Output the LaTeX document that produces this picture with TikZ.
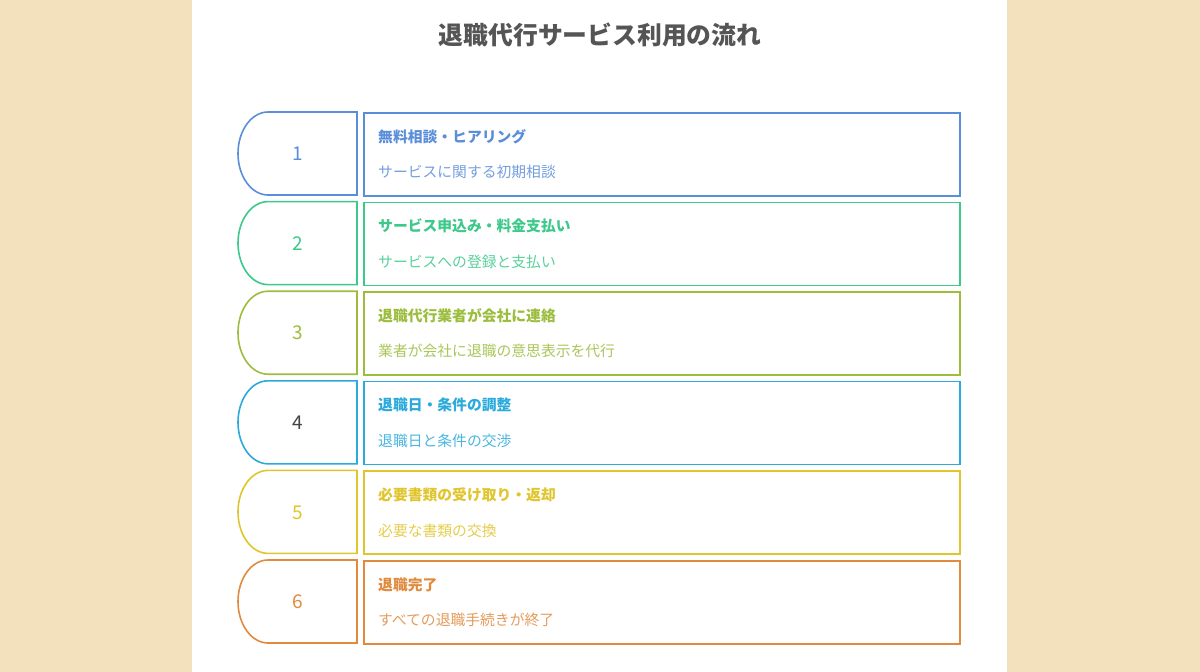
\documentclass[tikz,border=0pt]{standalone}
\usepackage{fontspec}
\setmainfont{Noto Sans CJK JP}
\newfontfamily\jp{Noto Sans CJK JP}
\usetikzlibrary{positioning}

\definecolor{pagebg}{HTML}{F3E0BC}
\definecolor{titlegray}{HTML}{555555}
\definecolor{numgray}{HTML}{444444}
\definecolor{cone}{HTML}{5B8ED8}
\definecolor{ctwo}{HTML}{3DC98A}
\definecolor{cthree}{HTML}{9CBD3E}
\definecolor{cfour}{HTML}{2BAADB}
\definecolor{cfive}{HTML}{E0C52E}
\definecolor{csix}{HTML}{E08B3E}

\tikzset{
  tab/.style={line width=1.6pt},
  stepbox/.style={draw,line width=1.6pt,rectangle,minimum width=596pt,minimum height=83pt,
    anchor=north west,inner sep=0pt},
  stepnum/.style={font=\jp\fontsize{19}{21}\selectfont},
  stephead/.style={anchor=west,inner sep=0pt,font=\jp\bfseries\fontsize{14.8}{17}\selectfont},
  stepsub/.style={anchor=west,inner sep=0pt,font=\jp\fontsize{14.8}{17}\selectfont}
}

% one row: #1 index, #2 top, #3 colour, #4 number colour, #5 heading, #6 text
\newcommand{\flowrow}[6]{%
  \draw[tab,#3] (357,#2) -- (268,#2) arc[start angle=270,end angle=90,x radius=30,y radius=41.5]
    -- (357,#2+83) -- cycle;
  \node[stepnum,text=#4] (n#1) at (298,#2+42) {#1};
  \node[stepbox,draw=#3] (box#1) at (363,#2) {};
  \node[stephead,text=#3] (head#1) at ([xshift=15pt,yshift=-24.5pt]box#1.north west) {#5};
  \node[stepsub,text=#3!85!white] (sub#1) at ([xshift=15pt,yshift=-60pt]box#1.north west) {#6};
}

\begin{document}
\begin{tikzpicture}[x=1pt,y=-1pt]
  \fill[pagebg] (0,0) rectangle (1200,672);
  \fill[white] (192,0) rectangle (1007,672);
  \useasboundingbox (0,0) rectangle (1200,672);

  \node[font=\jp\bfseries\fontsize{24.8}{28}\selectfont,text=titlegray] (title) at (600,35)
    {退職代行サービス利用の流れ};

  \flowrow{1}{112}{cone}{cone}{無料相談・ヒアリング}{サービスに関する初期相談}
  \flowrow{2}{201.6}{ctwo}{ctwo}{サービス申込み・料金支払い}{サービスへの登録と支払い}
  \flowrow{3}{291.2}{cthree}{cthree}{退職代行業者が会社に連絡}{業者が会社に退職の意思表示を代行}
  \flowrow{4}{380.8}{cfour}{numgray}{退職日・条件の調整}{退職日と条件の交渉}
  \flowrow{5}{470.4}{cfive}{cfive}{必要書類の受け取り・返却}{必要な書類の交換}
  \flowrow{6}{560}{csix}{csix}{退職完了}{すべての退職手続きが終了}

\end{tikzpicture}
\end{document}
